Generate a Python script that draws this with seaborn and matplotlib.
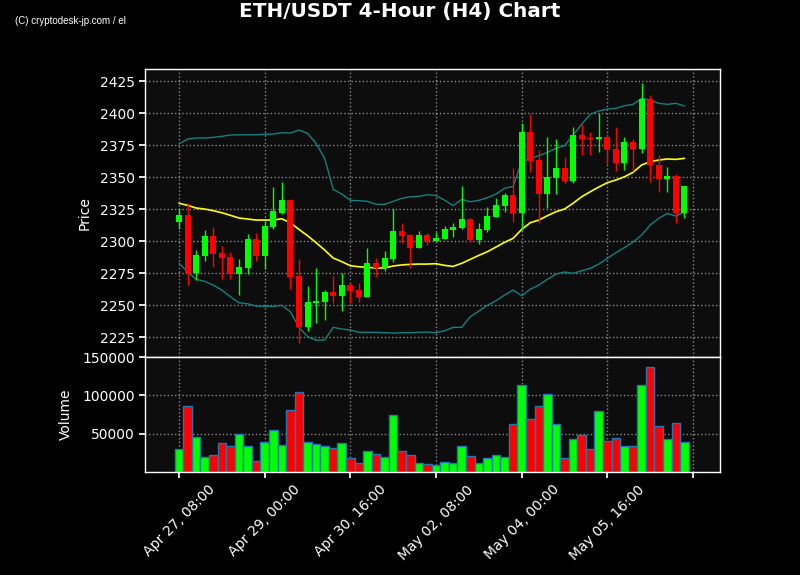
import numpy as np
import seaborn as sns
import matplotlib
matplotlib.use('Agg')
import matplotlib.pyplot as plt

# OHLC of the 4-hour candles
opens = [2315.1, 2320.3, 2275.0, 2288.5, 2304.0, 2290.6, 2287.5, 2274.5, 2279.2, 2301.6,
         2288.5, 2311.2, 2322.1, 2332.0, 2272.7, 2233.0, 2251.6, 2252.3, 2260.2, 2257.0,
         2265.6, 2261.7, 2256.5, 2282.6, 2279.2, 2285.7, 2307.8, 2304.7, 2294.8, 2304.7,
         2300.2, 2301.6, 2308.8, 2310.4, 2317.2, 2301.0, 2308.8, 2319.0, 2327.6, 2336.0,
         2322.1, 2385.4, 2363.3, 2337.0, 2349.5, 2356.8, 2347.1, 2382.8, 2380.7, 2379.7,
         2381.3, 2371.6, 2360.7, 2377.3, 2371.6, 2410.7, 2359.4, 2348.2, 2350.8, 2322.1]
closes = [2320.3, 2275.0, 2289.1, 2304.0, 2289.8, 2287.0, 2274.5, 2279.7, 2301.6, 2288.5,
          2311.7, 2323.4, 2332.0, 2272.1, 2233.0, 2252.3, 2253.1, 2260.2, 2257.0, 2265.6,
          2261.2, 2256.5, 2282.6, 2279.2, 2286.5, 2307.8, 2304.2, 2294.8, 2304.7, 2300.2,
          2302.3, 2309.1, 2311.0, 2317.2, 2301.0, 2309.4, 2319.5, 2328.1, 2336.0, 2322.1,
          2385.4, 2362.5, 2337.0, 2349.8, 2356.8, 2347.1, 2382.8, 2379.7, 2379.7, 2381.3,
          2371.6, 2360.7, 2377.3, 2371.6, 2410.7, 2359.4, 2348.2, 2350.8, 2322.1, 2343.0]
highs = [2325.5, 2329.5, 2293.0, 2308.6, 2310.7, 2296.3, 2291.2, 2285.7, 2305.2, 2306.0,
         2315.6, 2342.4, 2346.3, 2333.0, 2285.7, 2264.8, 2278.7, 2261.7, 2273.0, 2274.8,
         2267.4, 2266.9, 2294.3, 2286.5, 2292.4, 2324.8, 2313.8, 2305.5, 2308.0, 2306.0,
         2307.3, 2311.7, 2314.3, 2343.2, 2317.7, 2313.8, 2326.8, 2333.4, 2337.7, 2356.8,
         2392.0, 2399.2, 2371.1, 2381.6, 2379.5, 2366.0, 2389.3, 2391.2, 2385.0, 2399.8,
         2383.3, 2388.8, 2381.0, 2379.5, 2423.7, 2414.1, 2367.2, 2357.6, 2352.3, 2343.0]
lows = [2309.1, 2265.6, 2269.5, 2284.4, 2279.9, 2270.1, 2270.3, 2257.8, 2274.0, 2284.4,
        2278.1, 2309.1, 2320.9, 2262.5, 2220.0, 2230.0, 2235.7, 2238.3, 2251.3, 2245.3,
        2251.3, 2252.1, 2256.5, 2271.6, 2276.8, 2283.8, 2298.2, 2278.7, 2294.8, 2296.6,
        2300.2, 2301.6, 2303.4, 2309.1, 2299.0, 2297.7, 2307.3, 2319.0, 2322.4, 2314.6,
        2308.6, 2354.1, 2313.8, 2325.5, 2336.5, 2345.0, 2345.0, 2367.2, 2367.2, 2369.3,
        2360.2, 2354.9, 2355.5, 2354.9, 2369.0, 2346.3, 2338.5, 2338.0, 2313.8, 2317.7]
volumes = [29600, 85600, 46200, 19500, 22000, 37300, 33500, 49500, 33500, 14400,
           39800, 55100, 34700, 80500, 104700, 39800, 36000, 33500, 30900, 38500,
           18200, 11800, 27100, 23300, 19500, 74200, 27100, 22000, 11800, 10600,
           9300, 13100, 11800, 33500, 20700, 11800, 18200, 22000, 19500, 62700,
           113600, 69100, 85600, 102200, 62700, 18200, 43600, 48700, 29600, 79300,
           41100, 44900, 33500, 33500, 113600, 136500, 60200, 43600, 64000, 39800]

# Bollinger bands (20, 2) as drawn
sma = [2329.5, 2327.9, 2325.8, 2325.0, 2323.7, 2322.1, 2320.1, 2318.0, 2317.2, 2316.4,
       2316.4, 2316.4, 2317.4, 2314.3, 2309.1, 2304.2, 2298.7, 2293.0, 2286.7, 2283.9,
       2280.7, 2279.9, 2279.5, 2278.9, 2279.0, 2280.5, 2281.3, 2281.8, 2282.0, 2282.0,
       2282.3, 2281.0, 2280.2, 2282.6, 2285.7, 2288.8, 2291.7, 2295.3, 2299.0, 2302.1,
       2309.1, 2314.3, 2316.4, 2319.8, 2322.9, 2325.0, 2329.5, 2334.6, 2338.5, 2342.2,
       2345.6, 2347.7, 2350.2, 2353.7, 2359.4, 2362.0, 2363.3, 2364.1, 2363.8, 2364.6]
upper = [2375.8, 2379.7, 2380.5, 2380.5, 2381.0, 2381.8, 2382.8, 2383.0, 2383.0, 2383.0,
         2383.4, 2383.6, 2384.6, 2384.4, 2386.7, 2384.1, 2376.3, 2364.6, 2340.4, 2336.7,
         2331.8, 2331.5, 2331.0, 2328.7, 2328.7, 2331.0, 2333.4, 2334.6, 2334.9, 2336.2,
         2335.5, 2332.0, 2327.6, 2332.6, 2330.7, 2331.8, 2333.9, 2336.7, 2341.2, 2342.7,
         2362.0, 2364.6, 2366.6, 2369.3, 2372.4, 2374.5, 2382.8, 2391.2, 2399.0, 2401.6,
         2403.1, 2403.7, 2405.7, 2406.8, 2411.5, 2410.2, 2407.6, 2406.8, 2407.6, 2405.5]
lower = [2282.6, 2276.0, 2270.1, 2268.5, 2265.6, 2261.7, 2256.5, 2251.8, 2251.0, 2249.2,
         2249.0, 2249.0, 2249.8, 2244.8, 2232.6, 2225.3, 2222.5, 2222.7, 2232.6, 2231.3,
         2230.5, 2228.7, 2228.7, 2228.7, 2228.4, 2228.1, 2228.4, 2228.4, 2228.7, 2228.9,
         2228.4, 2229.9, 2232.6, 2232.6, 2240.9, 2245.3, 2249.8, 2253.4, 2257.8, 2261.7,
         2257.3, 2262.3, 2265.6, 2270.1, 2274.2, 2275.8, 2274.8, 2276.8, 2278.7, 2282.0,
         2286.5, 2290.9, 2295.0, 2299.2, 2304.7, 2312.5, 2317.7, 2321.6, 2319.5, 2322.9]

tick_labels = ['Apr 27, 08:00', 'Apr 29, 00:00', 'Apr 30, 16:00',
               'May 02, 08:00', 'May 04, 00:00', 'May 05, 16:00', '']

sns.set_theme(style='dark', rc={
    'figure.facecolor': 'black',
    'axes.facecolor': '#0d0d0d',
    'axes.edgecolor': 'white',
    'axes.labelcolor': 'white',
    'xtick.color': 'white',
    'ytick.color': 'white',
    'text.color': 'white',
    'xtick.bottom': True,
    'ytick.left': True,
})
plt.rcParams['font.family'] = ['DejaVu Sans']

x = np.arange(len(closes))
o = np.array(opens)
c = np.array(closes)
up = c >= o
colors = np.where(up, '#00ff00', '#ff0000')

fig = plt.figure(figsize=(8, 5.75), dpi=100)
ax = fig.add_axes([0.18125, 0.3791, 0.71875, 0.5009])
axv = fig.add_axes([0.18125, 0.1791, 0.71875, 0.2], sharex=ax)

# bands
sns.lineplot(x=x, y=upper, ax=ax, color='#128080', lw=1)
sns.lineplot(x=x, y=lower, ax=ax, color='#128080', lw=1)
sns.lineplot(x=x, y=sma, ax=ax, color='#ffff00', lw=1.2)

# candles
ax.vlines(x, lows, highs, colors=colors, lw=1, zorder=3)
body = np.maximum(np.abs(c - o), 0.6)
ax.bar(x, body, bottom=np.minimum(o, c), width=0.7, color=colors,
       edgecolor=colors, linewidth=0, zorder=4)

ax.set_xlim(-3.97, 63.15)
ax.set_ylim(2209.4, 2434.4)
ax.set_yticks([2225, 2250, 2275, 2300, 2325, 2350, 2375, 2400, 2425])
ax.set_ylabel('Price', fontsize=10)
ax.yaxis.set_label_coords(-0.092, 0.5)
ax.grid(True, color='white', alpha=0.5, linestyle=':', lw=1)
ax.tick_params(axis='x', labelbottom=False, length=0)
ax.tick_params(axis='y', labelsize=10, length=4)

# volume
axv.bar(x, volumes, width=1.0, color=colors, edgecolor='#1f77b4', lw=1)
axv.set_ylim(0, 150000)
axv.set_yticks([50000, 100000, 150000])
axv.set_ylabel('Volume', fontsize=10)
axv.yaxis.set_label_coords(-0.125, 0.5)
axv.grid(True, color='white', alpha=0.5, linestyle=':', lw=1)
axv.set_xticks(np.arange(0, 61, 10))
axv.set_xticklabels(tick_labels)
axv.tick_params(axis='both', labelsize=10, length=4)
plt.setp(axv.get_xticklabels(), rotation=45)

for a in (ax, axv):
    for s in a.spines.values():
        s.set_color('white')
        s.set_linewidth(1)

fig.text(0.5, 1 - 11 / 575, 'ETH/USDT 4-Hour (H4) Chart', ha='center', va='center',
         fontsize=14.4, fontweight='bold', color='white')
fig.text(15 / 800, 1 - 21 / 575, '(C) cryptodesk-jp.com / el', ha='left', va='center',
         fontsize=7, color='white', family=['Liberation Sans Narrow', 'Liberation Sans'])

fig.savefig('out.png', dpi=100, facecolor='black')
plt.close(fig)
